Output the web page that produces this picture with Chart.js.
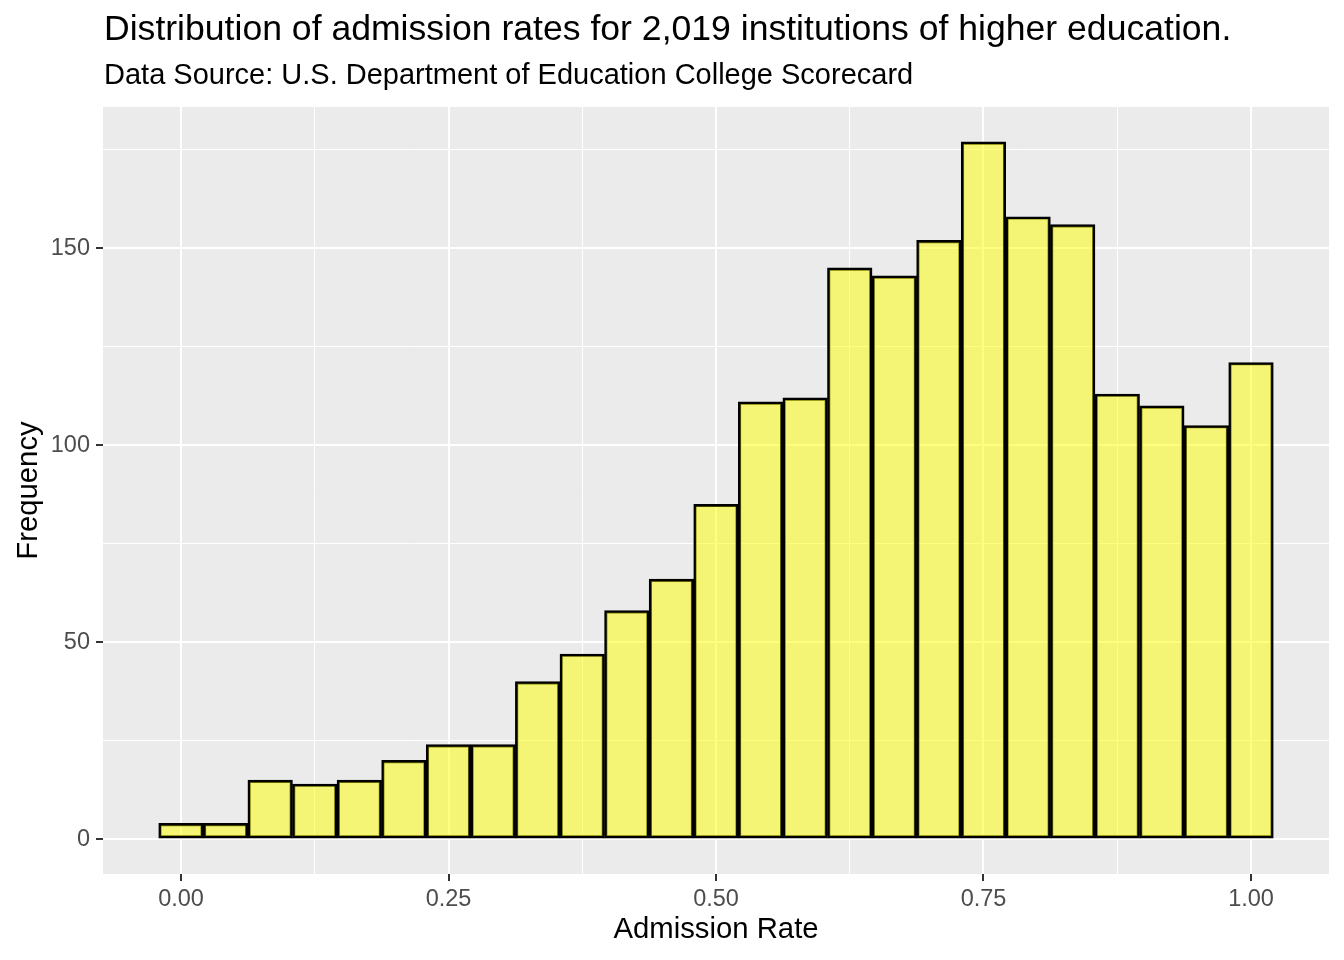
<!DOCTYPE html>
<html>
<head>
<meta charset="utf-8">
<script src="https://cdn.jsdelivr.net/npm/chart.js@4.4.1/dist/chart.umd.min.js"></script>
<style>
  html, body { margin: 0; padding: 0; background: #fff; }
  #wrap { width: 1344px; height: 960px; }
</style>
</head>
<body>
<div id="wrap"><canvas id="hist"></canvas></div>
<script>
// DATA - histogram of admission rates, 25 bins of width 1/24
const binCenters = [0, 1/24, 2/24, 3/24, 4/24, 5/24, 6/24, 7/24, 8/24, 9/24, 10/24, 11/24, 12/24,
  13/24, 14/24, 15/24, 16/24, 17/24, 18/24, 19/24, 20/24, 21/24, 22/24, 23/24, 1];
const counts = [4, 4, 15, 14, 15, 20, 24, 24, 40, 47, 58, 66, 85, 111, 112, 145, 143, 152, 177, 158, 156, 113, 110, 105, 121];
const xTicks = [0, 0.125, 0.25, 0.375, 0.5, 0.625, 0.75, 0.875, 1];
const xLabelTicks = [0, 0.25, 0.5, 0.75, 1];
const yTicks = [0, 25, 50, 75, 100, 125, 150, 175];
const yLabelTicks = [0, 50, 100, 150];

const titleText = 'Distribution of admission rates for 2,019 institutions of higher education.';
const subtitleText = 'Data Source: U.S. Department of Education College Scorecard';

const FONT = '"Liberation Sans", Arial, Helvetica, sans-serif';

const isMajor = (list, v) => list.some(t => Math.abs(t - v) < 1e-9);
const tickVal = c => (c && c.tick) ? c.tick.value : NaN;

// grey panel + titles
const panelPlugin = {
    id: 'panel',
    beforeDraw(chart) {
        const { ctx, chartArea: a } = chart;
        ctx.save();
        ctx.fillStyle = '#EBEBEB';
        ctx.fillRect(a.left, a.top, a.right - a.left, a.bottom - a.top);
        ctx.fillStyle = '#000';
        ctx.textAlign = 'left';
        ctx.textBaseline = 'alphabetic';
        ctx.font = '35.6px ' + FONT;
        ctx.fillText(titleText, a.left + 1, 40);
        ctx.font = '29px ' + FONT;
        ctx.fillText(subtitleText, a.left + 1, 84);
        ctx.restore();
    }
};

new Chart(document.getElementById('hist'), {
    type: 'bar',
    data: {
        datasets: [{
            data: binCenters.map((x, i) => ({ x: x, y: counts[i] })),
            backgroundColor: 'rgba(255,255,0,0.5)',
            borderColor: '#000',
            borderWidth: 2.5,
            borderSkipped: false,
            barPercentage: 1,
            categoryPercentage: 1
        }]
    },
    plugins: [panelPlugin],
    options: {
        responsive: true,
        maintainAspectRatio: false,
        animation: false,
        layout: { padding: { top: 107, right: 15, left: 0, bottom: 0 } },
        plugins: { legend: { display: false }, tooltip: { enabled: false } },
        scales: {
            x: {
                type: 'linear',
                offset: false,
                min: -0.0729,
                max: 1.0729,
                afterBuildTicks: s => { s.ticks = xTicks.map(v => ({ value: v })); },
                afterFit: s => { s.height = 86; },
                border: { display: false },
                grid: {
                    offset: false,
                    color: '#fff',
                    lineWidth: c => isMajor(xLabelTicks, tickVal(c)) ? 2 : 1,
                    tickColor: c => isMajor(xLabelTicks, tickVal(c)) ? '#333' : 'rgba(0,0,0,0)',
                    tickWidth: 2,
                    tickLength: 7
                },
                ticks: {
                    autoSkip: false,
                    maxRotation: 0,
                    padding: 4,
                    color: '#4D4D4D',
                    font: { family: FONT, size: 23.5 },
                    callback: v => isMajor(xLabelTicks, v) ? v.toFixed(2) : ''
                },
                title: {
                    display: true,
                    text: 'Admission Rate',
                    color: '#000',
                    font: { family: FONT, size: 29.3 },
                    padding: { top: 0, bottom: 13 }
                }
            },
            y: {
                min: -8.85,
                max: 185.85,
                afterBuildTicks: s => { s.ticks = yTicks.map(v => ({ value: v })); },
                afterFit: s => { s.width = 103; },
                border: { display: false },
                grid: {
                    color: '#fff',
                    lineWidth: c => isMajor(yLabelTicks, tickVal(c)) ? 2 : 1,
                    tickColor: c => isMajor(yLabelTicks, tickVal(c)) ? '#333' : 'rgba(0,0,0,0)',
                    tickWidth: 2,
                    tickLength: 7
                },
                ticks: {
                    autoSkip: false,
                    padding: 6,
                    color: '#4D4D4D',
                    font: { family: FONT, size: 23.5 },
                    callback: v => isMajor(yLabelTicks, v) ? String(v) : ''
                },
                title: {
                    display: true,
                    text: 'Frequency',
                    color: '#000',
                    font: { family: FONT, size: 29.3 },
                    padding: { top: 11, bottom: 0 }
                }
            }
        }
    }
});
</script>
</body>
</html>
